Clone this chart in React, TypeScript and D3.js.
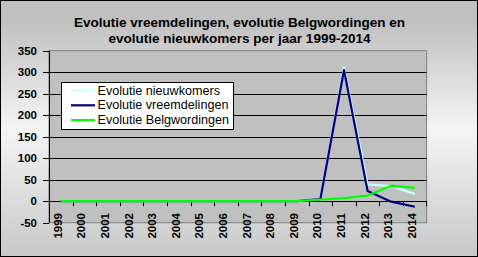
import React from "react";
import * as d3 from "d3";

const years = ["1999","2000","2001","2002","2003","2004","2005","2006","2007","2008","2009","2010","2011","2012","2013","2014"];
const nieuwkomers = [0,0,0,0,0,0,0,0,0,0,0,5,311,39,35,17];
const vreemdelingen = [0,0,0,0,0,0,0,0,0,0,0,5,305,24,-1,-13];
const belgwordingen = [0,0,0,0,0,0,0,0,0,0,0,4,7,13,36,31];
const yTicks = [-50,0,50,100,150,200,250,300,350];
const seriesNames = ["Evolutie nieuwkomers","Evolutie vreemdelingen","Evolutie Belgwordingen"];
const seriesColors = ["#ccffff","#000080","#00ff00"];
const titleLines = ["Evolutie vreemdelingen, evolutie Belgwordingen en","evolutie nieuwkomers per jaar 1999-2014"];

const W = 478, H = 257;
const L = 49, R = 426.6, T = 50.7, B = 222.7;

export default function App() {
  const x = d3.scaleBand<string>().domain(years).range([L, R]).padding(0);
  const y = d3.scaleLinear().domain([-50, 350]).range([B, T]);
  const cx = (yr: string) => (x(yr) as number) + x.bandwidth() / 2;
  const line = d3.line<number>().x((_, i) => cx(years[i])).y(v => y(v));
  const allSeries = [nieuwkomers, vreemdelingen, belgwordingen];
  const font = "'Liberation Sans', Arial, sans-serif";
  return (
    <svg width={W} height={H} style={{ position: "fixed", left: 0, top: 0 }} fontFamily={font}>
      <defs>
        <linearGradient id="bg" x1="0" y1="0" x2="0" y2="1">
          <stop offset="0" stopColor="#c0c0c0" />
          <stop offset="0.08" stopColor="#c0c0c0" />
          <stop offset="0.5" stopColor="#f4f4f4" />
          <stop offset="1" stopColor="#c8c8c8" />
        </linearGradient>
      </defs>
      <rect x={0.5} y={0.5} width={W - 1} height={H - 1} fill="url(#bg)" stroke="#000" />
      {titleLines.map((t, i) => (
        <text key={i} x={239.5} y={27 + i * 16} textAnchor="middle" fontWeight="bold" fontSize={13.5}>{t}</text>
      ))}
      <rect x={L} y={T} width={R - L} height={B - T} fill="#c0c0c0" stroke="#808080" />
      {yTicks.filter(v => v > -50 && v < 350 && v !== 0).map(v => (
        <line key={v} x1={L} x2={R} y1={Math.round(y(v)) + 0.5} y2={Math.round(y(v)) + 0.5} stroke="#000" />
      ))}
      {yTicks.map(v => (
        <g key={v}>
          <line x1={43} x2={L} y1={Math.round(y(v)) + 0.5} y2={Math.round(y(v)) + 0.5} stroke="#000" />
          <text x={37} y={y(v)} dy="0.35em" textAnchor="end" fontWeight="bold" fontSize={11.5}>{v}</text>
        </g>
      ))}
      <line x1={L + 0.5} x2={L + 0.5} y1={T} y2={B} stroke="#000" />
      <line x1={L} x2={R} y1={Math.round(y(0)) + 0.5} y2={Math.round(y(0)) + 0.5} stroke="#000" />
      {years.map((yr, i) => (
        <g key={yr}>
          {i > 0 && <line x1={Math.round(x(yr) as number) + 0.5} x2={Math.round(x(yr) as number) + 0.5} y1={y(0)} y2={y(0) + 5} stroke="#000" />}
          <text transform={`translate(${cx(yr) + 1},213) rotate(-90)`} textAnchor="end" fontWeight="bold" fontSize={11.5}>{yr}</text>
        </g>
      ))}
      <line x1={R} x2={R} y1={y(0)} y2={y(0) + 5} stroke="#000" />
      {allSeries.map((s, i) => (
        <path key={i} d={line(s) || ""} fill="none" stroke={seriesColors[i]} strokeWidth={2.2} strokeLinejoin="round" />
      ))}
      <rect x={61.5} y={82.5} width={172} height={47} fill="#fff" stroke="#000" />
      {seriesNames.map((n, i) => (
        <g key={n}>
          <line x1={71} x2={95} y1={90.5 + i * 14.8} y2={90.5 + i * 14.8} stroke={seriesColors[i]} strokeWidth={2.2} />
          <text x={97.5} y={94.5 + i * 14.8} fontSize={12.6}>{n}</text>
        </g>
      ))}
    </svg>
  );
}
